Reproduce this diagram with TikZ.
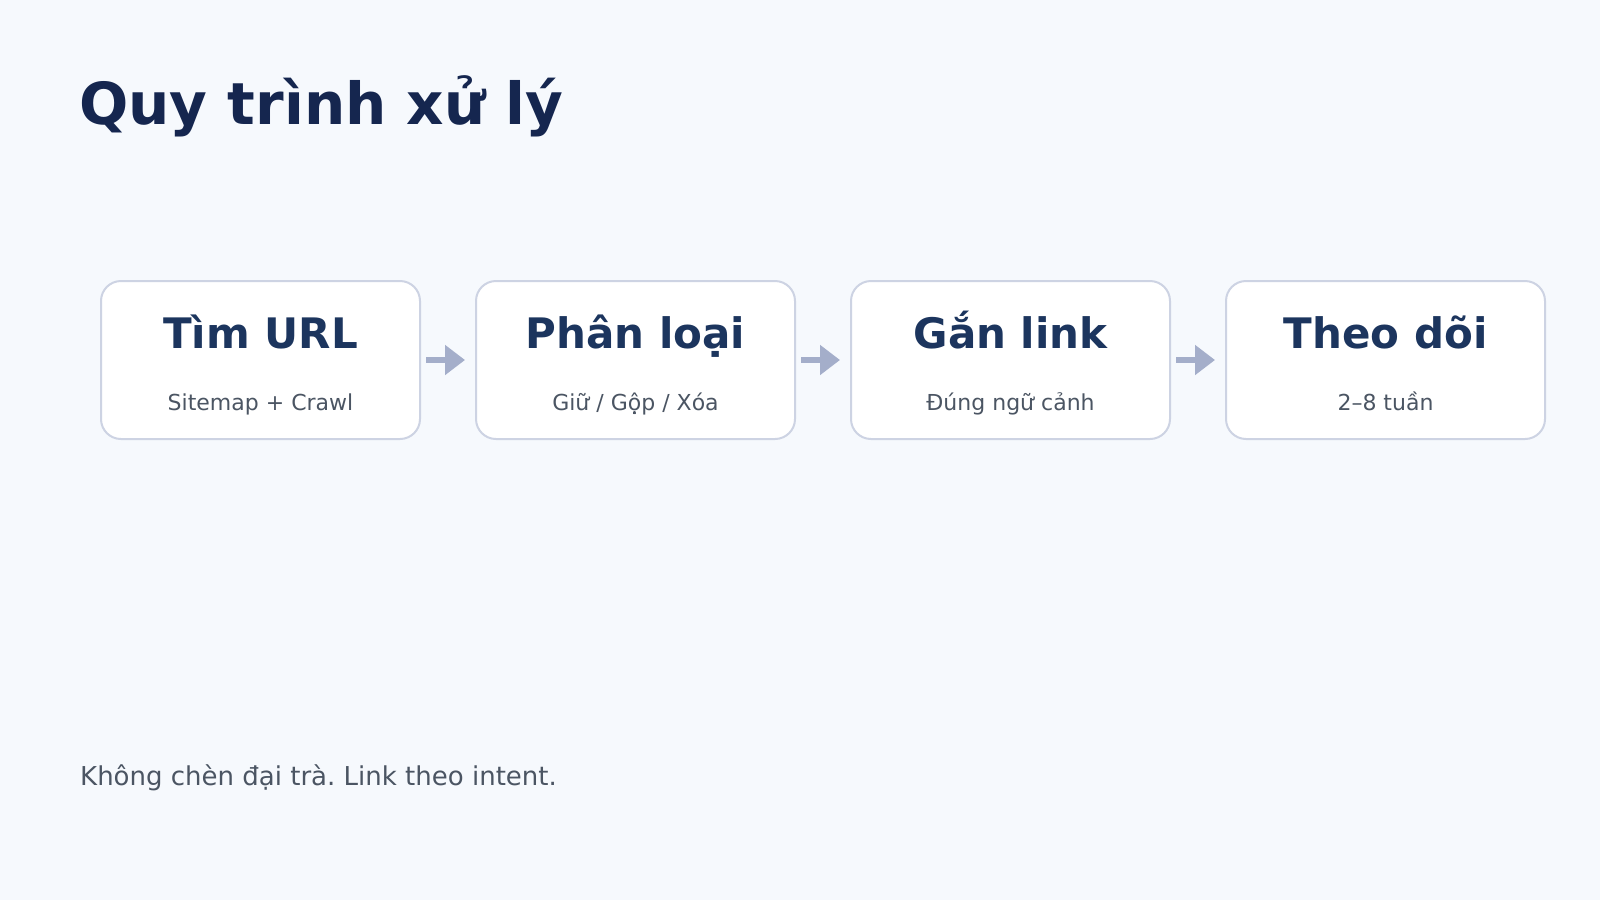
\documentclass[tikz,border=0pt]{standalone}
\usepackage{fontspec}
\setmainfont{DejaVu Sans}
\usetikzlibrary{arrows.meta}
\frenchspacing
\definecolor{bgc}{HTML}{F6F9FD}
\definecolor{titlec}{HTML}{15264F}
\definecolor{headc}{HTML}{1C355E}
\definecolor{subc}{HTML}{4B5563}
\definecolor{borderc}{HTML}{CDD3E3}
\definecolor{arrowc}{HTML}{A4AECA}
\tikzset{
  stepbox/.style={draw=borderc, line width=2pt, fill=white, rounded corners=20pt,
    minimum width=319pt, minimum height=158pt, inner sep=0pt},
  headtxt/.style={font=\fontsize{42}{50}\selectfont\bfseries, text=headc, inner sep=0pt, anchor=base},
  subtxt/.style={font=\fontsize{22}{26}\selectfont, text=subc, inner sep=0pt, anchor=base},
  arr/.style={draw=arrowc, line width=6pt, -{Triangle[width=29pt,length=20pt]}},
}
\begin{document}
\begin{tikzpicture}[x=1pt,y=-1pt]
\fill[bgc] (0,0) rectangle (1600,900);
\useasboundingbox (0,0) rectangle (1600,900);
\node[font=\fontsize{58}{68}\selectfont\bfseries, text=titlec, inner sep=0pt, anchor=base west] (title) at (79,124) {Quy trình xử lý};
\foreach \i/\x/\h/\s in {1/260.5/{Tìm URL}/{Sitemap + Crawl}, 2/635.5/{Phân loại}/{Giữ / Gộp / Xóa}, 3/1010.5/{Gắn link}/{Đúng ngữ cảnh}, 4/1385.5/{Theo dõi}/{2–8 tuần}}{
  \node[stepbox] (b\i) at (\x,360) {};
  \node[headtxt] (h\i) at (\x,348) {\h};
  \node[subtxt] (s\i) at (\x,410) {\s};
}
\draw[arr] ([xshift=5pt]b1.east) -- ([xshift=-10pt]b2.west);
\draw[arr] ([xshift=5pt]b2.east) -- ([xshift=-10pt]b3.west);
\draw[arr] ([xshift=5pt]b3.east) -- ([xshift=-10pt]b4.west);
\node[font=\fontsize{26}{30}\selectfont, text=subc, inner sep=0pt, anchor=base west] (foot) at (80,785) {Không chèn đại trà. Link theo intent.};
\end{tikzpicture}
\end{document}
